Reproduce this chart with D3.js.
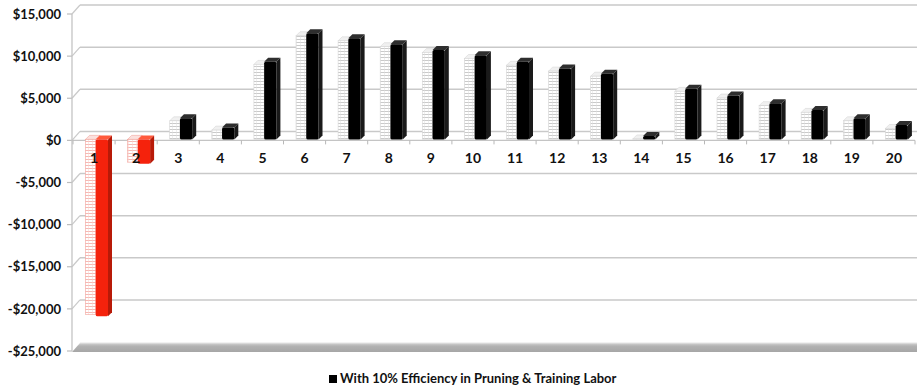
<!DOCTYPE html>
<html>
<head>
<meta charset="utf-8">
<script src="https://cdn.jsdelivr.net/npm/d3@7"></script>
<style>
  html, body { margin: 0; padding: 0; background: #fff; }
  svg { display: block; }
  text { font-family: Lato, "Open Sans", sans-serif; font-weight: 700; fill: #111; }
</style>
</head>
<body>
<svg id="chart" width="917" height="391"></svg>
<script>
// Net annual return by year
const categories = ["1","2","3","4","5","6","7","8","9","10","11","12","13","14","15","16","17","18","19","20"];
const baselineValues = [-20800, -2700, 2200, 1100, 8900, 12300, 11700, 11000, 10300, 9600, 8800, 8100, 7500, 50, 5700, 4900, 4000, 3200, 2200, 1300];
const efficiencyValues = [-21000, -2900, 2500, 1400, 9200, 12600, 12000, 11300, 10600, 10000, 9200, 8400, 7800, 400, 6000, 5200, 4300, 3500, 2500, 1700];
const yTicks = [-25000, -20000, -15000, -10000, -5000, 0, 5000, 10000, 15000];
const legendLabel = "With 10% Efficiency in Pruning & Training Labor";

const svg = d3.select("#chart");
const W = 917;
const wallX = 72;           // front-left edge of the plot
const depth = { dx: 8, dy: -9 };   // offset of the back wall
const barDepth = { dx: 4, dy: -4 };

const x = d3.scaleBand().domain(categories).range([73, 915]);
const sub = d3.scaleBand().domain(["base", "eff"]).range([12.5, 35]).padding(0);
const y = d3.scaleLinear().domain([-25000, 15000]).range([351, 14]);

const defs = svg.append("defs");
function hatch(id, lineColor, vColor) {
  const p = defs.append("pattern").attr("id", id).attr("patternUnits", "userSpaceOnUse")
    .attr("width", 4).attr("height", 3);
  p.append("rect").attr("width", 4).attr("height", 3).attr("fill", "#fff");
  p.append("line").attr("x1", 0).attr("x2", 4).attr("y1", 0.5).attr("y2", 0.5)
    .attr("stroke", lineColor).attr("stroke-width", 0.8);
  p.append("line").attr("x1", 0.5).attr("x2", 0.5).attr("y1", 0).attr("y2", 3)
    .attr("stroke", vColor).attr("stroke-width", 0.5);
}
hatch("hatchGray", "#bdbdbd", "#dedede");
hatch("hatchRed", "#f4a6a0", "#fbd0cb");

const floorGrad = defs.append("linearGradient").attr("id", "floorGrad")
  .attr("x1", 0).attr("x2", 0).attr("y1", 0).attr("y2", 1);
floorGrad.append("stop").attr("offset", "0%").attr("stop-color", "#d4d4d4");
floorGrad.append("stop").attr("offset", "35%").attr("stop-color", "#b2b2b2");
floorGrad.append("stop").attr("offset", "100%").attr("stop-color", "#a6a6a6");

const grid = svg.append("g");
// back-wall gridlines with their connectors to the side wall
yTicks.forEach(t => {
  const yy = y(t);
  if (t !== -25000) {
    grid.append("line").attr("x1", wallX + depth.dx).attr("x2", W)
      .attr("y1", yy + depth.dy).attr("y2", yy + depth.dy)
      .attr("stroke", "#c9c9c9").attr("stroke-width", 1.5);
    grid.append("line").attr("x1", wallX).attr("y1", yy)
      .attr("x2", wallX + depth.dx).attr("y2", yy + depth.dy)
      .attr("stroke", "#c9c9c9").attr("stroke-width", 1.2);
  }
  grid.append("line").attr("x1", wallX - 5).attr("x2", wallX)
    .attr("y1", yy).attr("y2", yy).attr("stroke", "#bdbdbd").attr("stroke-width", 1.2);
});
// side wall edge
grid.append("line").attr("x1", wallX).attr("x2", wallX)
  .attr("y1", y(15000)).attr("y2", y(-25000)).attr("stroke", "#c4c4c4").attr("stroke-width", 1.3);

// floor slab
const fy = y(-25000);
svg.append("path")
  .attr("d", `M${wallX},${fy + 1} L${wallX + depth.dx},${fy - 8} L${W},${fy - 8} L${W},${fy + 1} Z`)
  .attr("fill", "url(#floorGrad)");
svg.append("line").attr("x1", wallX + depth.dx).attr("x2", W).attr("y1", fy - 8).attr("y2", fy - 8)
  .attr("stroke", "#e4e4e4").attr("stroke-width", 1);

// zero plane (category axis)
const y0 = y(0);
svg.append("line").attr("x1", wallX).attr("x2", 915).attr("y1", y0).attr("y2", y0)
  .attr("stroke", "#c4c4c4").attr("stroke-width", 1.4);
const tickXs = categories.map(c => x(c)).concat([x.range()[1]]);
svg.append("g").selectAll("line").data(tickXs).join("line")
  .attr("x1", d => d).attr("x2", d => d).attr("y1", y0).attr("y2", y0 + 4)
  .attr("stroke", "#b8b8b8").attr("stroke-width", 1);

// y axis labels
svg.append("g").selectAll("text").data(yTicks).join("text")
  .attr("x", 61).attr("y", d => y(d)).attr("dy", "0.36em")
  .attr("text-anchor", "end").attr("font-size", 13)
  .text(d => (d < 0 ? "-$" : "$") + d3.format(",")(Math.abs(d)));

// 3D columns
const rows = categories.map((c, i) => ({ c, base: baselineValues[i], eff: efficiencyValues[i] }));
const bars = svg.append("g");
function column(g, x0, w, v, kind) {
  const top = Math.min(y(v), y0) - 1;
  const bot = Math.max(y(v), y0) - 1;
  const neg = v < 0;
  let front, side, topC, stroke;
  if (kind === "base") {
    front = neg ? "url(#hatchRed)" : "url(#hatchGray)";
    side = front; topC = neg ? "#fbe0dd" : "#f0f0f0";
    stroke = neg ? "#f2a29b" : "#d6d6d6";
  } else {
    front = neg ? "#f5220c" : "#000";
    side = neg ? "#b81a08" : "#1a1a1a";
    topC = neg ? "#ff5a3c" : "#2e2e2e";
    stroke = "none";
  }
  const dx = barDepth.dx, dy = barDepth.dy;
  // top face
  g.append("path").attr("d", `M${x0},${top} L${x0 + dx},${top + dy} L${x0 + w + dx},${top + dy} L${x0 + w},${top} Z`)
    .attr("fill", topC).attr("stroke", stroke).attr("stroke-width", 0.6);
  // right side
  g.append("path").attr("d", `M${x0 + w},${top} L${x0 + w + dx},${top + dy} L${x0 + w + dx},${bot + dy} L${x0 + w},${bot} Z`)
    .attr("fill", side).attr("stroke", stroke).attr("stroke-width", 0.6);
  // front face
  g.append("rect").attr("x", x0).attr("y", top).attr("width", w).attr("height", Math.max(bot - top, 0.5))
    .attr("fill", front).attr("stroke", stroke).attr("stroke-width", 0.6)
    .attr("rx", kind === "eff" ? 1.5 : 0);
}
rows.forEach(r => {
  const g = bars.append("g");
  column(g, x(r.c) + sub("base"), sub.bandwidth() - 1, r.base, "base");
  column(g, x(r.c) + sub("eff") - 1, sub.bandwidth() + 1, r.eff, "eff");
});

// category labels
svg.append("g").selectAll("text").data(categories).join("text")
  .attr("x", d => x(d) + x.bandwidth() / 2).attr("y", y0 + 23)
  .attr("text-anchor", "middle").attr("font-size", 14)
  .text(d => d);

// legend
const lg = svg.append("g");
lg.append("rect").attr("x", 329).attr("y", 375).attr("width", 8).attr("height", 8).attr("fill", "#000");
lg.append("text").attr("x", 340).attr("y", 383).attr("font-size", 13).text(legendLabel);
</script>
</body>
</html>
